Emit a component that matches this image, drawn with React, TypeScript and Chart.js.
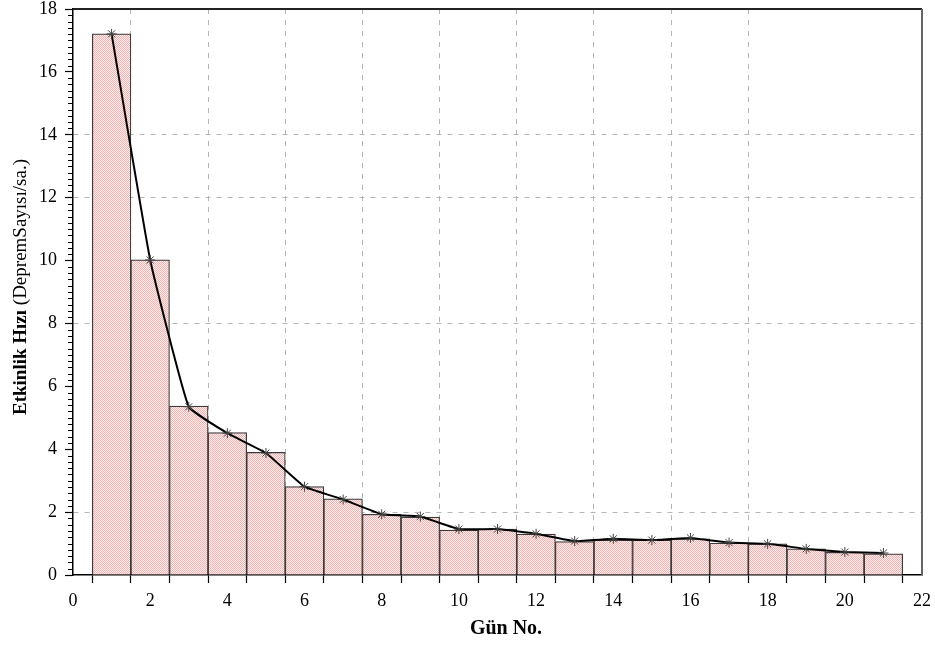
import React, { useEffect, useRef } from "react";
import { Chart, registerables } from "chart.js";

Chart.register(...registerables);

const days = [1, 2, 3, 4, 5, 6, 7, 8, 9, 10, 11, 12, 13, 14, 15, 16, 17, 18, 19, 20, 21];
const barValues = [17.21, 10.02, 5.37, 4.53, 3.9, 2.81, 2.42, 1.93, 1.84, 1.43, 1.46, 1.3, 1.06, 1.11, 1.11, 1.15, 1.01, 0.99, 0.83, 0.72, 0.67];
const lineValues = [17.21, 10.02, 5.35, 4.51, 3.88, 2.81, 2.4, 1.93, 1.86, 1.46, 1.46, 1.31, 1.08, 1.15, 1.11, 1.18, 1.03, 0.99, 0.83, 0.73, 0.7];
const xGridValues = [2, 4, 6, 8, 10, 12, 14, 16, 18];
const yGridValues = [2, 8, 12, 14];
const xTitle = "Gün No.";
const yTitleBold = "Etkinlik Hızı ";
const yTitleRegular = "(DepremSayısı/sa.)";

const SERIF = "'Liberation Serif', 'Times New Roman', serif";

function makePattern(ctx: CanvasRenderingContext2D) {
  const c = document.createElement("canvas");
  c.width = 2;
  c.height = 2;
  const p = c.getContext("2d")!;
  p.fillStyle = "#fff0f0";
  p.fillRect(0, 0, 2, 2);
  p.fillStyle = "#f5b0b0";
  p.fillRect(0, 0, 1, 1);
  p.fillRect(1, 1, 1, 1);
  return ctx.createPattern(c, "repeat")!;
}

const decorPlugin = {
  id: "decor",
  afterDraw(chart: any) {
    const ctx = chart.ctx as CanvasRenderingContext2D;
    const area = chart.chartArea;
    const ys = chart.scales.y;
    ctx.save();
    // minor y ticks
    ctx.strokeStyle = "#000";
    ctx.lineWidth = 1;
    for (let i = 0; i <= 90; i++) {
      if (i % 10 === 0) continue;
      const y = Math.round(ys.getPixelForValue(i * 0.2)) + 0.5;
      ctx.beginPath();
      ctx.moveTo(area.left - 5, y);
      ctx.lineTo(area.left, y);
      ctx.stroke();
    }
    // top & right frame
    ctx.strokeStyle = "#222";
    ctx.lineWidth = 2;
    ctx.beginPath();
    ctx.moveTo(area.left, area.top);
    ctx.lineTo(area.right, area.top);
    ctx.stroke();
    ctx.strokeStyle = "#666";
    ctx.beginPath();
    ctx.moveTo(area.right, area.top);
    ctx.lineTo(area.right, area.bottom);
    ctx.stroke();

    // x title
    ctx.fillStyle = "#000";
    ctx.font = `bold 20px ${SERIF}`;
    ctx.textAlign = "center";
    ctx.textBaseline = "alphabetic";
    ctx.fillText(xTitle, 506, 634);

    // y title (mixed weights)
    const cy = 287;
    ctx.translate(21, cy);
    ctx.rotate(-Math.PI / 2);
    ctx.textAlign = "left";
    ctx.textBaseline = "middle";
    ctx.font = `bold 19px ${SERIF}`;
    const wb = ctx.measureText(yTitleBold).width;
    ctx.font = `19px ${SERIF}`;
    const wr = ctx.measureText(yTitleRegular).width;
    const start = -(wb + wr) / 2;
    ctx.font = `bold 19px ${SERIF}`;
    ctx.fillText(yTitleBold, start, 0);
    ctx.font = `19px ${SERIF}`;
    ctx.fillText(yTitleRegular, start + wb, 0);
    ctx.restore();
  },
};

export default function App() {
  const ref = useRef<HTMLCanvasElement>(null);
  useEffect(() => {
    document.body.style.margin = "0";
    const canvas = ref.current!;
    const ctx = canvas.getContext("2d")!;
    const pattern = makePattern(ctx);
    const chart = new Chart(ctx, {
      type: "bar",
      data: {
        datasets: [
          {
            type: "line",
            data: days.map((d, i) => ({ x: d, y: lineValues[i] })),
            borderColor: "#000",
            borderWidth: 2,
            tension: 0.1,
            pointStyle: "star",
            pointRadius: 5,
            pointBorderColor: "#444",
            pointBorderWidth: 1,
            pointBackgroundColor: "#444",
            order: 0,
          } as any,
          {
            type: "bar",
            data: days.map((d, i) => ({ x: d, y: barValues[i] })),
            backgroundColor: pattern as any,
            borderColor: "#3a3a3a",
            borderWidth: 1.2,
            barPercentage: 1,
            categoryPercentage: 1,
            grouped: false,
            order: 1,
          } as any,
        ],
      },
      options: {
        responsive: false,
        animation: false,
        layout: { padding: { top: 9, right: 13, left: 0, bottom: 0 } },
        plugins: { legend: { display: false }, tooltip: { enabled: false } },
        scales: {
          x: {
            type: "linear",
            min: 0,
            max: 22,
            offset: false,
            afterFit: (s: any) => {
              s.height = 73;
              s.paddingLeft = 0;
              s.paddingRight = 0;
            },
            ticks: {
              stepSize: 1,
              autoSkip: false,
              maxRotation: 0,
              padding: 9,
              color: "#000",
              font: { family: SERIF, size: 18, lineHeight: 1 },
              callback: (v: any) => (Number(v) % 2 === 0 ? String(v) : ""),
            },
            grid: {
              display: true,
              drawOnChartArea: true,
              drawTicks: true,
              tickLength: 8,
              tickColor: "#000",
              tickWidth: 1.2,
              lineWidth: 1,
              color: (c: any) => (xGridValues.includes(c.tick?.value) ? "#b5b5b5" : "rgba(0,0,0,0)"),
            },
            border: { display: true, color: "#000", width: 1.5, dash: [5, 6] },
          },
          y: {
            type: "linear",
            min: 0,
            max: 18,
            afterFit: (s: any) => {
              s.width = 73;
              s.paddingTop = 0;
              s.paddingBottom = 0;
            },
            ticks: {
              stepSize: 2,
              padding: 8,
              color: "#000",
              font: { family: SERIF, size: 18, lineHeight: 1 },
            },
            grid: {
              display: true,
              drawOnChartArea: true,
              drawTicks: true,
              tickLength: 8,
              tickColor: "#000",
              tickWidth: 1.2,
              lineWidth: 1,
              color: (c: any) => (yGridValues.includes(c.tick?.value) ? "#b5b5b5" : "rgba(0,0,0,0)"),
            },
            border: { display: true, color: "#000", width: 1.5, dash: [5, 6] },
          },
        },
      } as any,
      plugins: [decorPlugin],
    });
    return () => chart.destroy();
  }, []);
  return (
    <div style={{ width: 935, height: 648, background: "#fff" }}>
      <canvas ref={ref} width={935} height={648} style={{ display: "block" }} />
    </div>
  );
}
